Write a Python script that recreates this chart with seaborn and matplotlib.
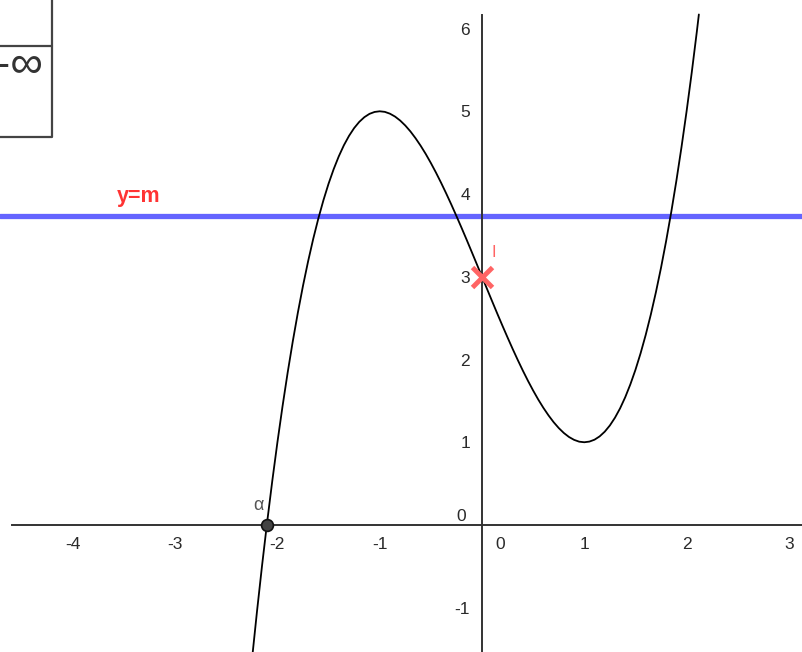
import matplotlib
matplotlib.use("Agg")
import matplotlib.pyplot as plt
import seaborn as sns
import pandas as pd

# ---- data ----
curve_x = [-2.3, -2.25, -2.2, -2.15, -2.1, -2.05, -2.0, -1.95, -1.9, -1.85, -1.8,
           -1.75, -1.7, -1.65, -1.6, -1.55, -1.5, -1.45, -1.4, -1.35, -1.3, -1.25,
           -1.2, -1.15, -1.1, -1.05, -1.0, -0.95, -0.9, -0.85, -0.8, -0.75, -0.7,
           -0.65, -0.6, -0.55, -0.5, -0.45, -0.4, -0.35, -0.3, -0.25, -0.2, -0.15,
           -0.1, -0.05, 0.0, 0.05, 0.1, 0.15, 0.2, 0.25, 0.3, 0.35, 0.4, 0.45, 0.5,
           0.55, 0.6, 0.65, 0.7, 0.75, 0.8, 0.85, 0.9, 0.95, 1.0, 1.05, 1.1, 1.15,
           1.2, 1.25, 1.3, 1.35, 1.4, 1.45, 1.5, 1.55, 1.6, 1.65, 1.7, 1.75, 1.8,
           1.85, 1.9, 1.95, 2.0, 2.05, 2.1, 2.12]
curve_y = [-2.267, -1.641, -1.048, -0.488, 0.039, 0.535, 1.0, 1.435, 1.841, 2.218,
           2.568, 2.891, 3.187, 3.458, 3.704, 3.926, 4.125, 4.301, 4.456, 4.590,
           4.703, 4.797, 4.872, 4.929, 4.969, 4.992, 5.0, 4.993, 4.971, 4.936,
           4.888, 4.828, 4.757, 4.675, 4.584, 4.484, 4.375, 4.259, 4.136, 4.007,
           3.873, 3.734, 3.592, 3.447, 3.299, 3.150, 3.0, 2.850, 2.701, 2.553,
           2.408, 2.266, 2.127, 1.993, 1.864, 1.741, 1.625, 1.516, 1.416, 1.325,
           1.243, 1.172, 1.112, 1.064, 1.029, 1.007, 1.0, 1.008, 1.031, 1.071,
           1.128, 1.203, 1.297, 1.410, 1.544, 1.699, 1.875, 2.074, 2.296, 2.542,
           2.813, 3.109, 3.432, 3.782, 4.159, 4.565, 5.0, 5.465, 5.961, 6.17]
m_value = 3.73
alpha_x = [-2.10]
alpha_y = [0.0]
point_I_x = [0.0]
point_I_y = [3.0]
x_ticks = [-4, -3, -2, -1, 1, 2, 3]
y_ticks = [-1, 1, 2, 3, 4, 5, 6]

df = pd.DataFrame({"x": curve_x, "y": curve_y})

sns.set_style("white")
plt.rcParams["font.family"] = ["Liberation Sans", "DejaVu Sans"]

fig = plt.figure(figsize=(8.03, 6.52), dpi=100)
ax = fig.add_axes([0, 0, 1, 1])
ax.set_xlim(-4.712, 3.138)
ax.set_ylim(-1.535, 6.345)

axis_col = "#333333"
lab_col = "#2a2a2a"

# axes through origin
for s in ["top", "right"]:
    ax.spines[s].set_visible(False)
ax.spines["left"].set_position(("data", 0))
ax.spines["bottom"].set_position(("data", 0))
ax.spines["left"].set_bounds(-1.535, 6.16)
ax.spines["bottom"].set_bounds(-4.595, 3.138)
for s in ["left", "bottom"]:
    ax.spines[s].set_color(axis_col)
    ax.spines[s].set_linewidth(1.4)
    ax.spines[s].set_zorder(2)

ax.set_xticks(x_ticks)
ax.set_xticklabels([f"{t:d}" for t in x_ticks])
ax.set_yticks(y_ticks)
ax.set_yticklabels([f"{t:d}" for t in y_ticks])
ax.tick_params(axis="x", direction="out", length=4, width=1.4, color=axis_col,
               labelsize=12.5, labelcolor=lab_col, pad=5)
ax.tick_params(axis="y", direction="out", length=4.5, width=1.4, color=axis_col,
               labelsize=12.5, labelcolor=lab_col, pad=4)
ax.text(0.18, -0.24, "0", fontsize=12.5, color=lab_col, ha="center", va="center")
ax.text(-0.2, 0.1, "0", fontsize=12.5, color=lab_col, ha="center", va="center")

# horizontal line y = m
ax.axhline(m_value, color="#6464ff", lw=3.8, zorder=1)
ax.text(-3.57, 3.97, "y=m", color="#ff3333", fontsize=15.5, fontweight="bold",
        ha="left", va="center")

# the curve
sns.lineplot(data=df, x="x", y="y", ax=ax, color="black", lw=1.3,
             sort=False, estimator=None, zorder=3)
ax.set_xlabel("")
ax.set_ylabel("")

# root alpha
ax.plot(alpha_x, alpha_y, "o", ms=8.5, mfc="#444444", mec="#111111", mew=1.2, zorder=5)
ax.text(alpha_x[0] - 0.09, 0.24, "α", fontsize=13, color="#555555",
        ha="center", va="center")

# point I
ax.plot(point_I_x, point_I_y, "x", ms=15, mew=3.5, color="#ff6464", zorder=6)
ax.text(point_I_x[0] + 0.115, point_I_y[0] + 0.29, "I", fontsize=12, color="#ff6464",
        ha="center", va="center")

# fragment of a variation table in the top-left corner
tcol = "#444444"
ax.plot([52 / 803, 52 / 803], [1, 1 - 137 / 652], transform=ax.transAxes,
        color=tcol, lw=1.6, clip_on=False, solid_capstyle="butt")
ax.plot([0, 52 / 803], [1 - 46 / 652, 1 - 46 / 652], transform=ax.transAxes,
        color=tcol, lw=1.6, clip_on=False)
ax.plot([0, 52 / 803], [1 - 137 / 652, 1 - 137 / 652], transform=ax.transAxes,
        color=tcol, lw=1.6, clip_on=False)
ax.text(43 / 803, 1 - 66 / 652, "-∞", transform=ax.transAxes, fontsize=33,
        color="#333333", ha="right", va="center")

fig.savefig("out.png", dpi=100)
